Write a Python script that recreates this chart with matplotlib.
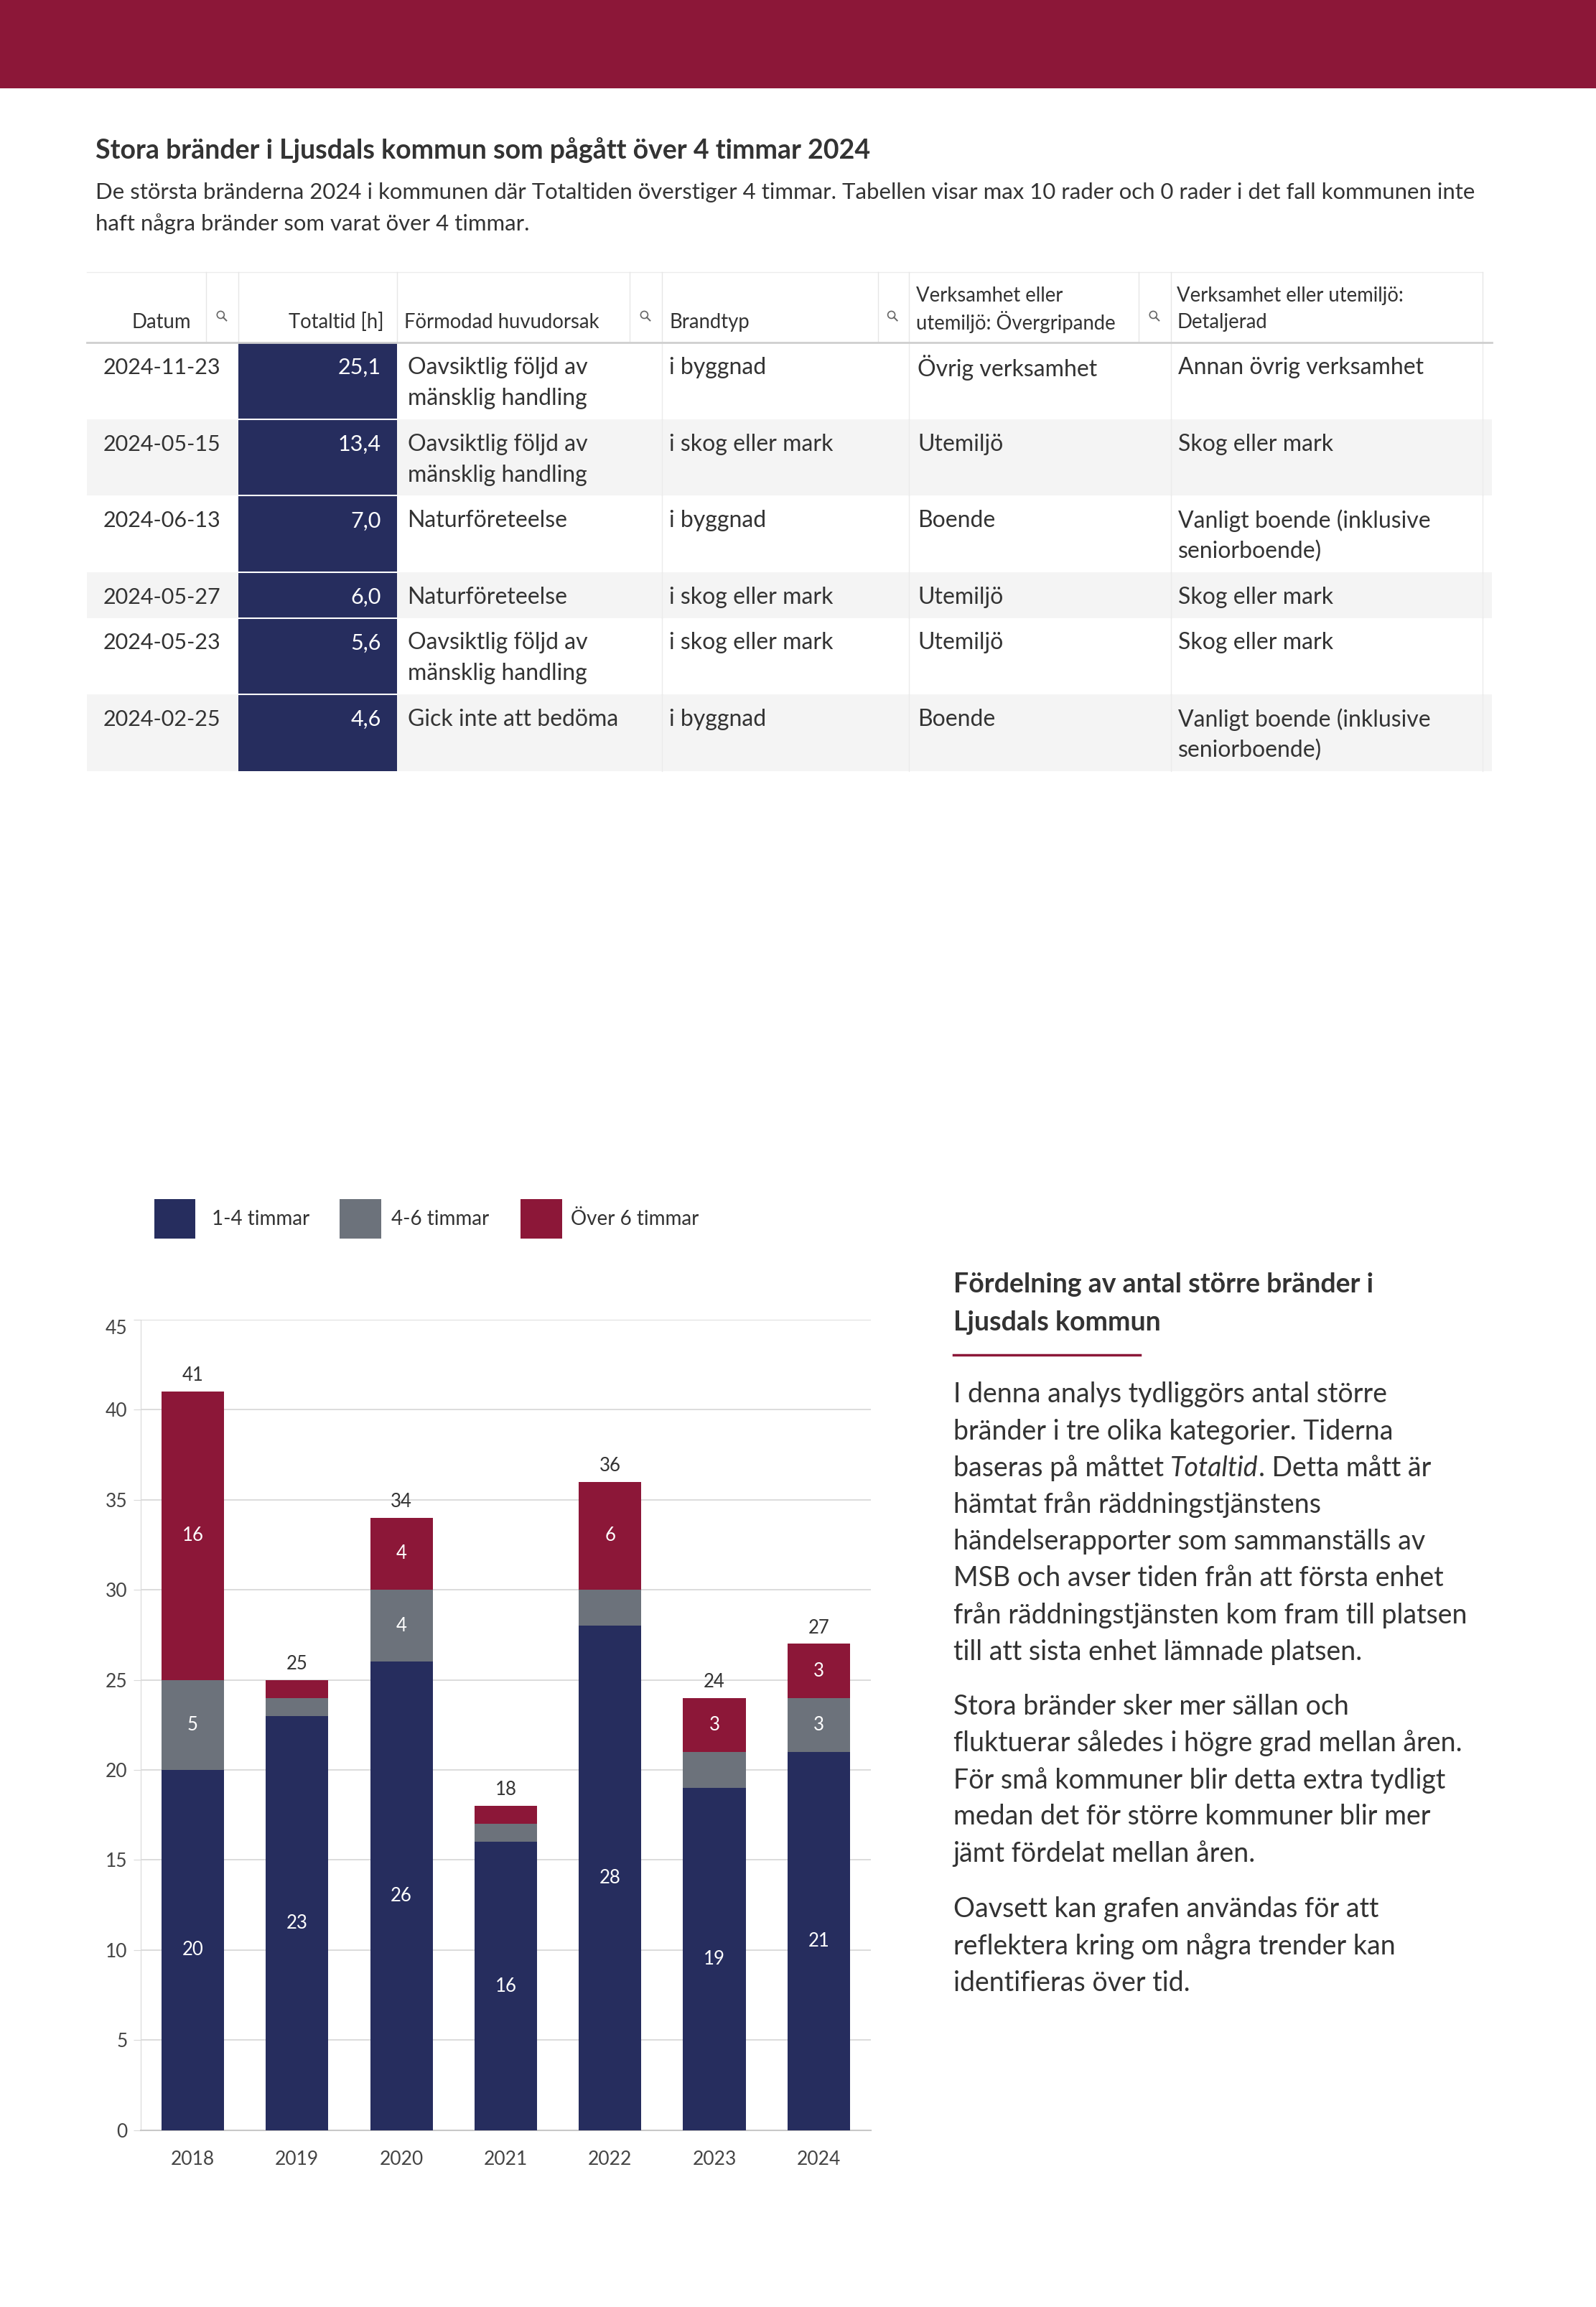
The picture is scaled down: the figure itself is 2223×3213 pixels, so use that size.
import matplotlib
matplotlib.use('Agg')
import matplotlib.pyplot as plt
from matplotlib.patches import Rectangle, Circle
from matplotlib.lines import Line2D
from matplotlib.transforms import IdentityTransform

plt.rcParams['font.family'] = ['Lato', 'DejaVu Sans']

# ---- data ----
years = ['2018', '2019', '2020', '2021', '2022', '2023', '2024']
series_names = ['1-4 timmar', '4-6 timmar', 'Över 6 timmar']
h_1_4 = [20, 23, 26, 16, 28, 19, 21]
h_4_6 = [5, 1, 4, 1, 2, 2, 3]
h_over6 = [16, 1, 4, 1, 6, 3, 3]

tbl_headers = ['Datum', 'Totaltid [h]', 'Förmodad huvudorsak', 'Brandtyp',
               'Verksamhet eller\nutemiljö: Övergripande',
               'Verksamhet eller utemiljö:\nDetaljerad']
tbl_datum = ['2024-11-23', '2024-05-15', '2024-06-13', '2024-05-27', '2024-05-23', '2024-02-25']
tbl_totaltid = [25.1, 13.4, 7.0, 6.0, 5.6, 4.6]
tbl_orsak = ['Oavsiktlig följd av\nmänsklig handling', 'Oavsiktlig följd av\nmänsklig handling',
             'Naturföreteelse', 'Naturföreteelse', 'Oavsiktlig följd av\nmänsklig handling',
             'Gick inte att bedöma']
tbl_brandtyp = ['i byggnad', 'i skog eller mark', 'i byggnad', 'i skog eller mark',
                'i skog eller mark', 'i byggnad']
tbl_overgr = ['Övrig verksamhet', 'Utemiljö', 'Boende', 'Utemiljö', 'Utemiljö', 'Boende']
tbl_detalj = ['Annan övrig verksamhet', 'Skog eller mark', 'Vanligt boende (inklusive\nseniorboende)',
              'Skog eller mark', 'Skog eller mark', 'Vanligt boende (inklusive\nseniorboende)']

title = 'Stora bränder i Ljusdals kommun som pågått över 4 timmar 2024'
subtitle = ['De största bränderna 2024 i kommunen där Totaltiden överstiger 4 timmar. '
            'Tabellen visar max 10 rader och 0 rader i det fall kommunen inte',
            'haft några bränder som varat över 4 timmar.']

side_heading = ['Fördelning av antal större bränder i', 'Ljusdals kommun']
side_par1 = ['I denna analys tydliggörs antal större',
             'bränder i tre olika kategorier. Tiderna',
             None,  # line with italic word, handled below
             'hämtat från räddningstjänstens',
             'händelserapporter som sammanställs av',
             'MSB och avser tiden från att första enhet',
             'från räddningstjänsten kom fram till platsen',
             'till att sista enhet lämnade platsen.']
side_par2 = ['Stora bränder sker mer sällan och',
             'fluktuerar således i högre grad mellan åren.',
             'För små kommuner blir detta extra tydligt',
             'medan det för större kommuner blir mer',
             'jämt fördelat mellan åren.']
side_par3 = ['Oavsett kan grafen användas för att',
             'reflektera kring om några trender kan',
             'identifieras över tid.']

navy = '#262D5E'
grey = '#6C727B'
wine = '#8C1738'
txt = '#333333'

W, H = 2223, 3213
K = W / 1085.0


def fx(x):
    return x * K / W


def fy(y):
    return 1 - y * K / H


fig = plt.figure(figsize=(W / 100, H / 100), dpi=100)

# banner
fig.add_artist(Rectangle((0, fy(60)), 1, 1 - fy(60), transform=fig.transFigure,
                         color=wine, lw=0))

# title and subtitle
fig.text(fx(65), fy(102), title, fontsize=27, fontweight='bold', color=txt, va='center')
for i, line in enumerate(subtitle):
    fig.text(fx(65), fy(131 + 21 * i), line, fontsize=22.4, color=txt, va='center')

# ---- table ----
t_left, t_right = 59, 1014
head_top, head_bot = 185, 233
line_h = 21


def hline(y, x0, x1, color, lw):
    fig.add_artist(Line2D([fx(x0), fx(x1)], [fy(y), fy(y)], transform=fig.transFigure,
                          color=color, lw=lw))


def vline(x, y0, y1, color, lw=1):
    fig.add_artist(Line2D([fx(x), fx(x)], [fy(y0), fy(y1)], transform=fig.transFigure,
                          color=color, lw=lw))


def magnifier(x, y):
    cx, cy = x * K, H - y * K
    fig.add_artist(Circle((cx, cy), 5, transform=IdentityTransform(), fill=False,
                          ec='#666666', lw=1.2))
    fig.add_artist(Line2D([cx + 3.5, cx + 8], [cy - 3.5, cy - 8], transform=IdentityTransform(),
                          color='#666666', lw=1.4))


hline(head_top, t_left, 1008, '#ececec', 1)
for xv in [140, 162, 270, 428, 450, 597, 618, 774, 796, 1008]:
    vline(xv, head_top, head_bot, '#e6e6e6')
for xv in [150, 438, 606, 784]:
    magnifier(xv, 214)

hdr_fs = 19.8
fig.text(fx(130), fy(219), tbl_headers[0], fontsize=hdr_fs, color=txt, ha='right', va='center')
fig.text(fx(261), fy(219), tbl_headers[1], fontsize=hdr_fs, color=txt, ha='right', va='center')
fig.text(fx(275), fy(219), tbl_headers[2], fontsize=hdr_fs, color=txt, va='center')
fig.text(fx(455), fy(219), tbl_headers[3], fontsize=hdr_fs, color=txt, va='center')
for xt, hd in [(623, tbl_headers[4]), (800, tbl_headers[5])]:
    for j, ln in enumerate(hd.split('\n')):
        fig.text(fx(xt), fy(201 + 18 * j), ln, fontsize=hdr_fs, color=txt, va='center')

body_fs = 23
y = head_bot
for r in range(len(tbl_datum)):
    cells = [tbl_datum[r], tbl_orsak[r], tbl_brandtyp[r], tbl_overgr[r], tbl_detalj[r]]
    nlines = max(c.count('\n') + 1 for c in cells)
    rh = 10 + line_h * nlines
    if r % 2 == 1:
        fig.add_artist(Rectangle((fx(t_left), fy(y + rh)), fx(t_right) - fx(t_left),
                                 fy(y) - fy(y + rh), transform=fig.transFigure,
                                 color='#f4f4f4', lw=0))
    fig.add_artist(Rectangle((fx(162), fy(y + rh)), fx(270) - fx(162),
                             fy(y) - fy(y + rh), transform=fig.transFigure,
                             color=navy, lw=0))
    for xv in [450, 618, 796, 1008]:
        vline(xv, y, y + rh, '#ebebeb')
    ty = y + 17
    fig.text(fx(70), fy(ty), tbl_datum[r], fontsize=22, color=txt, va='center')
    fig.text(fx(259), fy(ty), f'{tbl_totaltid[r]:.1f}'.replace('.', ','), fontsize=22,
             color='white', ha='right', va='center')
    for xt, val in [(277, tbl_orsak[r]), (455, tbl_brandtyp[r]), (624, tbl_overgr[r]),
                    (801, tbl_detalj[r])]:
        for j, ln in enumerate(val.split('\n')):
            fig.text(fx(xt), fy(ty + line_h * j), ln, fontsize=body_fs, color=txt, va='center')
    if r > 0:
        hline(y, 162, 270, 'white', 1.5)
    y += rh
hline(head_bot, t_left, t_right, '#cfcfcf', 2)

# ---- legend ----
colors = [navy, grey, wine]
leg_x = [105, 231, 354]
leg_tx = [144, 266, 388]
for name, c, lx, tx in zip(series_names, colors, leg_x, leg_tx):
    fig.add_artist(Rectangle((fx(lx), fy(842)), fx(28), fy(815) - fy(842),
                             transform=fig.transFigure, color=c, lw=0))
    fig.text(fx(tx), fy(829), name, fontsize=20, color=txt, va='center')

# ---- stacked bar chart ----
ax = fig.add_axes([fx(95.6), fy(1448), fx(592) - fx(95.6), fy(897) - fy(1448)])
xpos = range(len(years))
bottoms = [0] * len(years)
totals = [a + b + c for a, b, c in zip(h_1_4, h_4_6, h_over6)]
conts = []
for vals, c in zip([h_1_4, h_4_6, h_over6], colors):
    bc = ax.bar(xpos, vals, bottom=bottoms, width=0.6, color=c, zorder=3)
    ax.bar_label(bc, labels=[str(v) if v >= 3 else '' for v in vals], label_type='center',
                 color='white', fontsize=18.5)
    conts.append(bc)
    bottoms = [b + v for b, v in zip(bottoms, vals)]
ax.bar_label(conts[-1], labels=[str(t) for t in totals], padding=7, color=txt, fontsize=18.5)

ax.set_xlim(-0.5, 6.5)
ax.set_ylim(0, 45)
ax.set_yticks(range(0, 46, 5))
ax.set_xticks(list(xpos))
ax.set_xticklabels(years)
ax.grid(axis='y', color='#d9d9d9', lw=1.3, zorder=0)
for s in ['top', 'right']:
    ax.spines[s].set_visible(False)
ax.spines['left'].set_color('#d9d9d9')
ax.spines['bottom'].set_color('#c8c8c8')
ax.spines['bottom'].set_linewidth(1.5)
ax.tick_params(axis='y', length=7, color='#d9d9d9', labelsize=19, labelcolor='#444444', pad=6)
ax.tick_params(axis='x', length=0, labelsize=19, labelcolor='#444444', pad=20)
ax.get_yticklabels()[-1].set_va('top')

# ---- side text ----
sx = 648
for i, ln in enumerate(side_heading):
    fig.text(fx(sx), fy(873 + 26 * i), ln, fontsize=27, fontweight='bold', color=txt,
             va='center')
hline(921, sx, 775, wine, 2.5)

body_side_fs = 27
step = 25
for i, ln in enumerate(side_par1):
    yy = 948 + step * i
    if ln is None:
        t1 = fig.text(fx(sx), fy(yy), 'baseras på måttet ', fontsize=body_side_fs, color=txt,
                      va='center')
        r = fig.canvas.get_renderer()
        bb = t1.get_window_extent(r)
        t2 = fig.text(bb.x1 / W, fy(yy), 'Totaltid', fontsize=body_side_fs, color=txt,
                      va='center', style='italic')
        bb2 = t2.get_window_extent(r)
        fig.text(bb2.x1 / W, fy(yy), '. Detta mått är', fontsize=body_side_fs, color=txt,
                 va='center')
    else:
        fig.text(fx(sx), fy(yy), ln, fontsize=body_side_fs, color=txt, va='center')
for i, ln in enumerate(side_par2):
    fig.text(fx(sx), fy(1160 + step * i), ln, fontsize=body_side_fs, color=txt, va='center')
for i, ln in enumerate(side_par3):
    fig.text(fx(sx), fy(1298 + step * i), ln, fontsize=body_side_fs, color=txt, va='center')

fig.savefig('out.png', dpi=100)
